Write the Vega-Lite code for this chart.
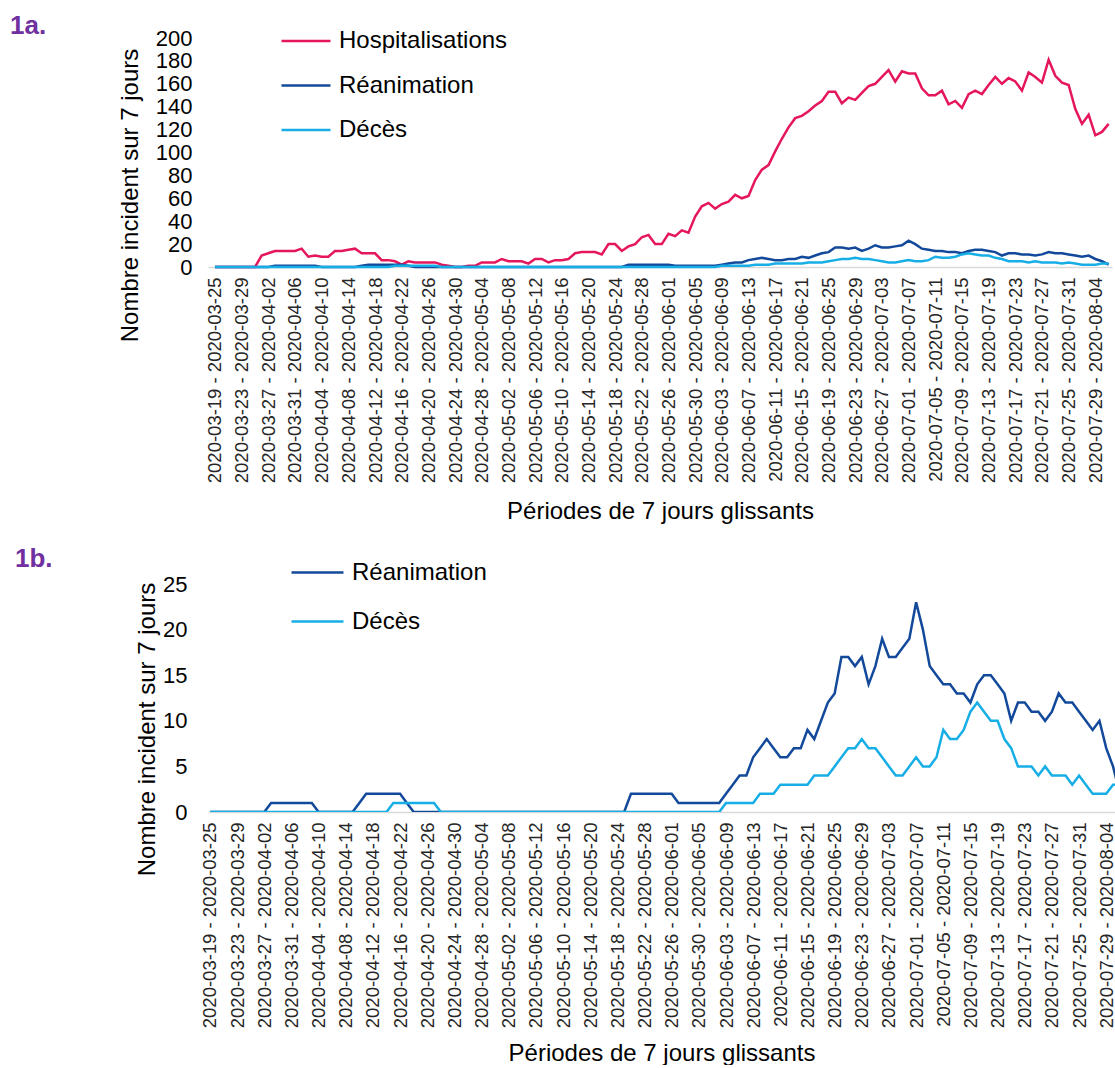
{
  "$schema": "https://vega.github.io/schema/vega-lite/v6.json",
  "background": "white",
  "padding": {"left": 10, "top": 13, "right": 0, "bottom": 0},
  "datasets": {
    "cas": [
      {"date": "2020-03-19", "Hospitalisations": 0, "Réanimation": 0, "Décès": 0},
      {"date": "2020-03-20", "Hospitalisations": 0, "Réanimation": 0, "Décès": 0},
      {"date": "2020-03-21", "Hospitalisations": 0, "Réanimation": 0, "Décès": 0},
      {"date": "2020-03-22", "Hospitalisations": 0, "Réanimation": 0, "Décès": 0},
      {"date": "2020-03-23", "Hospitalisations": 0, "Réanimation": 0, "Décès": 0},
      {"date": "2020-03-24", "Hospitalisations": 0, "Réanimation": 0, "Décès": 0},
      {"date": "2020-03-25", "Hospitalisations": 0, "Réanimation": 0, "Décès": 0},
      {"date": "2020-03-26", "Hospitalisations": 10, "Réanimation": 0, "Décès": 0},
      {"date": "2020-03-27", "Hospitalisations": 12, "Réanimation": 0, "Décès": 0},
      {"date": "2020-03-28", "Hospitalisations": 14, "Réanimation": 1, "Décès": 0},
      {"date": "2020-03-29", "Hospitalisations": 14, "Réanimation": 1, "Décès": 0},
      {"date": "2020-03-30", "Hospitalisations": 14, "Réanimation": 1, "Décès": 0},
      {"date": "2020-03-31", "Hospitalisations": 14, "Réanimation": 1, "Décès": 0},
      {"date": "2020-04-01", "Hospitalisations": 16, "Réanimation": 1, "Décès": 0},
      {"date": "2020-04-02", "Hospitalisations": 9, "Réanimation": 1, "Décès": 0},
      {"date": "2020-04-03", "Hospitalisations": 10, "Réanimation": 1, "Décès": 0},
      {"date": "2020-04-04", "Hospitalisations": 9, "Réanimation": 0, "Décès": 0},
      {"date": "2020-04-05", "Hospitalisations": 9, "Réanimation": 0, "Décès": 0},
      {"date": "2020-04-06", "Hospitalisations": 14, "Réanimation": 0, "Décès": 0},
      {"date": "2020-04-07", "Hospitalisations": 14, "Réanimation": 0, "Décès": 0},
      {"date": "2020-04-08", "Hospitalisations": 15, "Réanimation": 0, "Décès": 0},
      {"date": "2020-04-09", "Hospitalisations": 16, "Réanimation": 0, "Décès": 0},
      {"date": "2020-04-10", "Hospitalisations": 12, "Réanimation": 1, "Décès": 0},
      {"date": "2020-04-11", "Hospitalisations": 12, "Réanimation": 2, "Décès": 0},
      {"date": "2020-04-12", "Hospitalisations": 12, "Réanimation": 2, "Décès": 0},
      {"date": "2020-04-13", "Hospitalisations": 6, "Réanimation": 2, "Décès": 0},
      {"date": "2020-04-14", "Hospitalisations": 6, "Réanimation": 2, "Décès": 0},
      {"date": "2020-04-15", "Hospitalisations": 5, "Réanimation": 2, "Décès": 1},
      {"date": "2020-04-16", "Hospitalisations": 2, "Réanimation": 2, "Décès": 1},
      {"date": "2020-04-17", "Hospitalisations": 5, "Réanimation": 1, "Décès": 1},
      {"date": "2020-04-18", "Hospitalisations": 4, "Réanimation": 0, "Décès": 1},
      {"date": "2020-04-19", "Hospitalisations": 4, "Réanimation": 0, "Décès": 1},
      {"date": "2020-04-20", "Hospitalisations": 4, "Réanimation": 0, "Décès": 1},
      {"date": "2020-04-21", "Hospitalisations": 4, "Réanimation": 0, "Décès": 1},
      {"date": "2020-04-22", "Hospitalisations": 2, "Réanimation": 0, "Décès": 0},
      {"date": "2020-04-23", "Hospitalisations": 1, "Réanimation": 0, "Décès": 0},
      {"date": "2020-04-24", "Hospitalisations": 0, "Réanimation": 0, "Décès": 0},
      {"date": "2020-04-25", "Hospitalisations": 0, "Réanimation": 0, "Décès": 0},
      {"date": "2020-04-26", "Hospitalisations": 1, "Réanimation": 0, "Décès": 0},
      {"date": "2020-04-27", "Hospitalisations": 1, "Réanimation": 0, "Décès": 0},
      {"date": "2020-04-28", "Hospitalisations": 4, "Réanimation": 0, "Décès": 0},
      {"date": "2020-04-29", "Hospitalisations": 4, "Réanimation": 0, "Décès": 0},
      {"date": "2020-04-30", "Hospitalisations": 4, "Réanimation": 0, "Décès": 0},
      {"date": "2020-05-01", "Hospitalisations": 7, "Réanimation": 0, "Décès": 0},
      {"date": "2020-05-02", "Hospitalisations": 5, "Réanimation": 0, "Décès": 0},
      {"date": "2020-05-03", "Hospitalisations": 5, "Réanimation": 0, "Décès": 0},
      {"date": "2020-05-04", "Hospitalisations": 5, "Réanimation": 0, "Décès": 0},
      {"date": "2020-05-05", "Hospitalisations": 3, "Réanimation": 0, "Décès": 0},
      {"date": "2020-05-06", "Hospitalisations": 7, "Réanimation": 0, "Décès": 0},
      {"date": "2020-05-07", "Hospitalisations": 7, "Réanimation": 0, "Décès": 0},
      {"date": "2020-05-08", "Hospitalisations": 4, "Réanimation": 0, "Décès": 0},
      {"date": "2020-05-09", "Hospitalisations": 6, "Réanimation": 0, "Décès": 0},
      {"date": "2020-05-10", "Hospitalisations": 6, "Réanimation": 0, "Décès": 0},
      {"date": "2020-05-11", "Hospitalisations": 7, "Réanimation": 0, "Décès": 0},
      {"date": "2020-05-12", "Hospitalisations": 12, "Réanimation": 0, "Décès": 0},
      {"date": "2020-05-13", "Hospitalisations": 13, "Réanimation": 0, "Décès": 0},
      {"date": "2020-05-14", "Hospitalisations": 13, "Réanimation": 0, "Décès": 0},
      {"date": "2020-05-15", "Hospitalisations": 13, "Réanimation": 0, "Décès": 0},
      {"date": "2020-05-16", "Hospitalisations": 11, "Réanimation": 0, "Décès": 0},
      {"date": "2020-05-17", "Hospitalisations": 20, "Réanimation": 0, "Décès": 0},
      {"date": "2020-05-18", "Hospitalisations": 20, "Réanimation": 0, "Décès": 0},
      {"date": "2020-05-19", "Hospitalisations": 14, "Réanimation": 0, "Décès": 0},
      {"date": "2020-05-20", "Hospitalisations": 18, "Réanimation": 2, "Décès": 0},
      {"date": "2020-05-21", "Hospitalisations": 20, "Réanimation": 2, "Décès": 0},
      {"date": "2020-05-22", "Hospitalisations": 26, "Réanimation": 2, "Décès": 0},
      {"date": "2020-05-23", "Hospitalisations": 28, "Réanimation": 2, "Décès": 0},
      {"date": "2020-05-24", "Hospitalisations": 20, "Réanimation": 2, "Décès": 0},
      {"date": "2020-05-25", "Hospitalisations": 20, "Réanimation": 2, "Décès": 0},
      {"date": "2020-05-26", "Hospitalisations": 29, "Réanimation": 2, "Décès": 0},
      {"date": "2020-05-27", "Hospitalisations": 27, "Réanimation": 1, "Décès": 0},
      {"date": "2020-05-28", "Hospitalisations": 32, "Réanimation": 1, "Décès": 0},
      {"date": "2020-05-29", "Hospitalisations": 30, "Réanimation": 1, "Décès": 0},
      {"date": "2020-05-30", "Hospitalisations": 44, "Réanimation": 1, "Décès": 0},
      {"date": "2020-05-31", "Hospitalisations": 53, "Réanimation": 1, "Décès": 0},
      {"date": "2020-06-01", "Hospitalisations": 56, "Réanimation": 1, "Décès": 0},
      {"date": "2020-06-02", "Hospitalisations": 51, "Réanimation": 1, "Décès": 0},
      {"date": "2020-06-03", "Hospitalisations": 55, "Réanimation": 2, "Décès": 1},
      {"date": "2020-06-04", "Hospitalisations": 57, "Réanimation": 3, "Décès": 1},
      {"date": "2020-06-05", "Hospitalisations": 63, "Réanimation": 4, "Décès": 1},
      {"date": "2020-06-06", "Hospitalisations": 60, "Réanimation": 4, "Décès": 1},
      {"date": "2020-06-07", "Hospitalisations": 62, "Réanimation": 6, "Décès": 1},
      {"date": "2020-06-08", "Hospitalisations": 76, "Réanimation": 7, "Décès": 2},
      {"date": "2020-06-09", "Hospitalisations": 85, "Réanimation": 8, "Décès": 2},
      {"date": "2020-06-10", "Hospitalisations": 89, "Réanimation": 7, "Décès": 2},
      {"date": "2020-06-11", "Hospitalisations": 101, "Réanimation": 6, "Décès": 3},
      {"date": "2020-06-12", "Hospitalisations": 112, "Réanimation": 6, "Décès": 3},
      {"date": "2020-06-13", "Hospitalisations": 122, "Réanimation": 7, "Décès": 3},
      {"date": "2020-06-14", "Hospitalisations": 130, "Réanimation": 7, "Décès": 3},
      {"date": "2020-06-15", "Hospitalisations": 132, "Réanimation": 9, "Décès": 3},
      {"date": "2020-06-16", "Hospitalisations": 136, "Réanimation": 8, "Décès": 4},
      {"date": "2020-06-17", "Hospitalisations": 141, "Réanimation": 10, "Décès": 4},
      {"date": "2020-06-18", "Hospitalisations": 145, "Réanimation": 12, "Décès": 4},
      {"date": "2020-06-19", "Hospitalisations": 153, "Réanimation": 13, "Décès": 5},
      {"date": "2020-06-20", "Hospitalisations": 153, "Réanimation": 17, "Décès": 6},
      {"date": "2020-06-21", "Hospitalisations": 143, "Réanimation": 17, "Décès": 7},
      {"date": "2020-06-22", "Hospitalisations": 148, "Réanimation": 16, "Décès": 7},
      {"date": "2020-06-23", "Hospitalisations": 146, "Réanimation": 17, "Décès": 8},
      {"date": "2020-06-24", "Hospitalisations": 152, "Réanimation": 14, "Décès": 7},
      {"date": "2020-06-25", "Hospitalisations": 158, "Réanimation": 16, "Décès": 7},
      {"date": "2020-06-26", "Hospitalisations": 160, "Réanimation": 19, "Décès": 6},
      {"date": "2020-06-27", "Hospitalisations": 166, "Réanimation": 17, "Décès": 5},
      {"date": "2020-06-28", "Hospitalisations": 172, "Réanimation": 17, "Décès": 4},
      {"date": "2020-06-29", "Hospitalisations": 162, "Réanimation": 18, "Décès": 4},
      {"date": "2020-06-30", "Hospitalisations": 171, "Réanimation": 19, "Décès": 5},
      {"date": "2020-07-01", "Hospitalisations": 169, "Réanimation": 23, "Décès": 6},
      {"date": "2020-07-02", "Hospitalisations": 169, "Réanimation": 20, "Décès": 5},
      {"date": "2020-07-03", "Hospitalisations": 156, "Réanimation": 16, "Décès": 5},
      {"date": "2020-07-04", "Hospitalisations": 150, "Réanimation": 15, "Décès": 6},
      {"date": "2020-07-05", "Hospitalisations": 150, "Réanimation": 14, "Décès": 9},
      {"date": "2020-07-06", "Hospitalisations": 154, "Réanimation": 14, "Décès": 8},
      {"date": "2020-07-07", "Hospitalisations": 142, "Réanimation": 13, "Décès": 8},
      {"date": "2020-07-08", "Hospitalisations": 145, "Réanimation": 13, "Décès": 9},
      {"date": "2020-07-09", "Hospitalisations": 139, "Réanimation": 12, "Décès": 11},
      {"date": "2020-07-10", "Hospitalisations": 151, "Réanimation": 14, "Décès": 12},
      {"date": "2020-07-11", "Hospitalisations": 154, "Réanimation": 15, "Décès": 11},
      {"date": "2020-07-12", "Hospitalisations": 151, "Réanimation": 15, "Décès": 10},
      {"date": "2020-07-13", "Hospitalisations": 159, "Réanimation": 14, "Décès": 10},
      {"date": "2020-07-14", "Hospitalisations": 166, "Réanimation": 13, "Décès": 8},
      {"date": "2020-07-15", "Hospitalisations": 160, "Réanimation": 10, "Décès": 7},
      {"date": "2020-07-16", "Hospitalisations": 165, "Réanimation": 12, "Décès": 5},
      {"date": "2020-07-17", "Hospitalisations": 162, "Réanimation": 12, "Décès": 5},
      {"date": "2020-07-18", "Hospitalisations": 154, "Réanimation": 11, "Décès": 5},
      {"date": "2020-07-19", "Hospitalisations": 170, "Réanimation": 11, "Décès": 4},
      {"date": "2020-07-20", "Hospitalisations": 166, "Réanimation": 10, "Décès": 5},
      {"date": "2020-07-21", "Hospitalisations": 161, "Réanimation": 11, "Décès": 4},
      {"date": "2020-07-22", "Hospitalisations": 181, "Réanimation": 13, "Décès": 4},
      {"date": "2020-07-23", "Hospitalisations": 167, "Réanimation": 12, "Décès": 4},
      {"date": "2020-07-24", "Hospitalisations": 161, "Réanimation": 12, "Décès": 3},
      {"date": "2020-07-25", "Hospitalisations": 159, "Réanimation": 11, "Décès": 4},
      {"date": "2020-07-26", "Hospitalisations": 138, "Réanimation": 10, "Décès": 3},
      {"date": "2020-07-27", "Hospitalisations": 125, "Réanimation": 9, "Décès": 2},
      {"date": "2020-07-28", "Hospitalisations": 133, "Réanimation": 10, "Décès": 2},
      {"date": "2020-07-29", "Hospitalisations": 115, "Réanimation": 7, "Décès": 2},
      {"date": "2020-07-30", "Hospitalisations": 118, "Réanimation": 5, "Décès": 3},
      {"date": "2020-07-31", "Hospitalisations": 125, "Réanimation": 2, "Décès": 3}
    ]
  },
  "vconcat": [
    {
      "title": {"text": "1a.", "anchor": "start", "frame": "group", "dx": -198, "offset": -24, "fontSize": 26, "fontWeight": "bold", "color": "#7030A0"},
      "width": 904,
      "height": 229,
      "data": {"name": "cas"},
      "transform": [{"fold": ["Hospitalisations", "Réanimation", "Décès"], "as": ["serie", "valeur"]}],
      "mark": {"type": "line", "strokeWidth": 2.5},
      "encoding": {
        "x": {
          "field": "date",
          "type": "temporal",
          "title": "Périodes de 7 jours glissants",
          "scale": {
            "type": "utc",
            "domain": [
              {"year": 2020, "month": 3, "date": 17, "hours": 23, "utc": true},
              {"year": 2020, "month": 7, "date": 31, "hours": 12, "utc": true}
            ]
          },
          "axis": {
            "values": [
              {"year": 2020, "month": 3, "date": 19, "utc": true},
              {"year": 2020, "month": 3, "date": 23, "utc": true},
              {"year": 2020, "month": 3, "date": 27, "utc": true},
              {"year": 2020, "month": 3, "date": 31, "utc": true},
              {"year": 2020, "month": 4, "date": 4, "utc": true},
              {"year": 2020, "month": 4, "date": 8, "utc": true},
              {"year": 2020, "month": 4, "date": 12, "utc": true},
              {"year": 2020, "month": 4, "date": 16, "utc": true},
              {"year": 2020, "month": 4, "date": 20, "utc": true},
              {"year": 2020, "month": 4, "date": 24, "utc": true},
              {"year": 2020, "month": 4, "date": 28, "utc": true},
              {"year": 2020, "month": 5, "date": 2, "utc": true},
              {"year": 2020, "month": 5, "date": 6, "utc": true},
              {"year": 2020, "month": 5, "date": 10, "utc": true},
              {"year": 2020, "month": 5, "date": 14, "utc": true},
              {"year": 2020, "month": 5, "date": 18, "utc": true},
              {"year": 2020, "month": 5, "date": 22, "utc": true},
              {"year": 2020, "month": 5, "date": 26, "utc": true},
              {"year": 2020, "month": 5, "date": 30, "utc": true},
              {"year": 2020, "month": 6, "date": 3, "utc": true},
              {"year": 2020, "month": 6, "date": 7, "utc": true},
              {"year": 2020, "month": 6, "date": 11, "utc": true},
              {"year": 2020, "month": 6, "date": 15, "utc": true},
              {"year": 2020, "month": 6, "date": 19, "utc": true},
              {"year": 2020, "month": 6, "date": 23, "utc": true},
              {"year": 2020, "month": 6, "date": 27, "utc": true},
              {"year": 2020, "month": 7, "date": 1, "utc": true},
              {"year": 2020, "month": 7, "date": 5, "utc": true},
              {"year": 2020, "month": 7, "date": 9, "utc": true},
              {"year": 2020, "month": 7, "date": 13, "utc": true},
              {"year": 2020, "month": 7, "date": 17, "utc": true},
              {"year": 2020, "month": 7, "date": 21, "utc": true},
              {"year": 2020, "month": 7, "date": 25, "utc": true},
              {"year": 2020, "month": 7, "date": 29, "utc": true}
            ],
            "labelExpr": "utcFormat(datum.value, '%Y-%m-%d') + ' - ' + utcFormat(datum.value + 6 * 86400000, '%Y-%m-%d')",
            "labelAngle": -90,
            "labelFontSize": 18.5,
            "labelColor": "#262626",
            "labelPadding": 10,
            "labelLimit": 400,
            "labelOverlap": false,
            "labelBound": false,
            "ticks": false,
            "tickSize": 0,
            "grid": false,
            "domainColor": "#d9d9d9",
            "domainWidth": 1.5,
            "titleFontSize": 24,
            "titleFontWeight": "normal",
            "titleColor": "#000",
            "titlePadding": 32
          }
        },
        "y": {
          "field": "valeur",
          "type": "quantitative",
          "title": "Nombre incident sur 7 jours",
          "scale": {"domain": [0, 200]},
          "axis": {
            "values": [0, 20, 40, 60, 80, 100, 120, 140, 160, 180, 200],
            "labelFontSize": 22,
            "labelColor": "#000",
            "labelPadding": 16,
            "labelOverlap": false,
            "ticks": false,
            "tickSize": 0,
            "domain": false,
            "grid": false,
            "titleFontSize": 24,
            "titleFontWeight": "normal",
            "titleColor": "#000",
            "titleAngle": -90,
            "titleAlign": "center",
            "titleBaseline": "middle",
            "titleX": -78,
            "titleY": 157
          }
        },
        "color": {
          "field": "serie",
          "type": "nominal",
          "scale": {
            "domain": ["Hospitalisations", "Réanimation", "Décès"],
            "range": ["#E5175A", "#12499A", "#17AEE6"]
          },
          "legend": {
            "orient": "none",
            "legendX": 72,
            "legendY": -23,
            "title": null,
            "direction": "vertical",
            "symbolType": "stroke",
            "symbolSize": 2400,
            "symbolStrokeWidth": 2.5,
            "labelFontSize": 24,
            "labelColor": "#000",
            "labelOffset": 7,
            "labelLimit": 400,
            "rowPadding": 6.5,
            "padding": 0
          }
        }
      }
    },
    {
      "title": {"text": "1b.", "anchor": "start", "frame": "group", "dx": -193, "offset": -27, "fontSize": 26, "fontWeight": "bold", "color": "#7030A0"},
      "width": 907,
      "height": 228,
      "data": {"name": "cas"},
      "transform": [{"fold": ["Réanimation", "Décès"], "as": ["serie", "valeur"]}],
      "mark": {"type": "line", "strokeWidth": 2.5, "clip": true},
      "encoding": {
        "x": {
          "field": "date",
          "type": "temporal",
          "title": "Périodes de 7 jours glissants",
          "scale": {
            "type": "utc",
            "domain": [
              {"year": 2020, "month": 3, "date": 18, "hours": 17, "utc": true},
              {"year": 2020, "month": 7, "date": 30, "hours": 7, "utc": true}
            ]
          },
          "axis": {
            "values": [
              {"year": 2020, "month": 3, "date": 19, "utc": true},
              {"year": 2020, "month": 3, "date": 23, "utc": true},
              {"year": 2020, "month": 3, "date": 27, "utc": true},
              {"year": 2020, "month": 3, "date": 31, "utc": true},
              {"year": 2020, "month": 4, "date": 4, "utc": true},
              {"year": 2020, "month": 4, "date": 8, "utc": true},
              {"year": 2020, "month": 4, "date": 12, "utc": true},
              {"year": 2020, "month": 4, "date": 16, "utc": true},
              {"year": 2020, "month": 4, "date": 20, "utc": true},
              {"year": 2020, "month": 4, "date": 24, "utc": true},
              {"year": 2020, "month": 4, "date": 28, "utc": true},
              {"year": 2020, "month": 5, "date": 2, "utc": true},
              {"year": 2020, "month": 5, "date": 6, "utc": true},
              {"year": 2020, "month": 5, "date": 10, "utc": true},
              {"year": 2020, "month": 5, "date": 14, "utc": true},
              {"year": 2020, "month": 5, "date": 18, "utc": true},
              {"year": 2020, "month": 5, "date": 22, "utc": true},
              {"year": 2020, "month": 5, "date": 26, "utc": true},
              {"year": 2020, "month": 5, "date": 30, "utc": true},
              {"year": 2020, "month": 6, "date": 3, "utc": true},
              {"year": 2020, "month": 6, "date": 7, "utc": true},
              {"year": 2020, "month": 6, "date": 11, "utc": true},
              {"year": 2020, "month": 6, "date": 15, "utc": true},
              {"year": 2020, "month": 6, "date": 19, "utc": true},
              {"year": 2020, "month": 6, "date": 23, "utc": true},
              {"year": 2020, "month": 6, "date": 27, "utc": true},
              {"year": 2020, "month": 7, "date": 1, "utc": true},
              {"year": 2020, "month": 7, "date": 5, "utc": true},
              {"year": 2020, "month": 7, "date": 9, "utc": true},
              {"year": 2020, "month": 7, "date": 13, "utc": true},
              {"year": 2020, "month": 7, "date": 17, "utc": true},
              {"year": 2020, "month": 7, "date": 21, "utc": true},
              {"year": 2020, "month": 7, "date": 25, "utc": true},
              {"year": 2020, "month": 7, "date": 29, "utc": true}
            ],
            "labelExpr": "utcFormat(datum.value, '%Y-%m-%d') + ' - ' + utcFormat(datum.value + 6 * 86400000, '%Y-%m-%d')",
            "labelAngle": -90,
            "labelFontSize": 18.5,
            "labelColor": "#262626",
            "labelPadding": 10,
            "labelLimit": 400,
            "labelOverlap": false,
            "labelBound": false,
            "ticks": false,
            "tickSize": 0,
            "grid": false,
            "domainColor": "#d9d9d9",
            "domainWidth": 1.5,
            "titleFontSize": 24,
            "titleFontWeight": "normal",
            "titleColor": "#000",
            "titlePadding": 29
          }
        },
        "y": {
          "field": "valeur",
          "type": "quantitative",
          "title": "Nombre incident sur 7 jours",
          "scale": {"domain": [0, 25]},
          "axis": {
            "values": [0, 5, 10, 15, 20, 25],
            "labelFontSize": 22,
            "labelColor": "#000",
            "labelPadding": 21,
            "labelOverlap": false,
            "ticks": false,
            "tickSize": 0,
            "domain": false,
            "grid": false,
            "titleFontSize": 24,
            "titleFontWeight": "normal",
            "titleColor": "#000",
            "titleAngle": -90,
            "titleAlign": "center",
            "titleBaseline": "middle",
            "titleX": -61,
            "titleY": 145
          }
        },
        "color": {
          "field": "serie",
          "type": "nominal",
          "scale": {
            "domain": ["Réanimation", "Décès"],
            "range": ["#12499A", "#17AEE6"]
          },
          "legend": {
            "orient": "none",
            "legendX": 82,
            "legendY": -39,
            "title": null,
            "direction": "vertical",
            "symbolType": "stroke",
            "symbolSize": 2700,
            "symbolStrokeWidth": 2.5,
            "labelFontSize": 24,
            "labelColor": "#000",
            "labelOffset": 7,
            "labelLimit": 400,
            "rowPadding": 9,
            "padding": 0
          }
        }
      }
    }
  ],
  "spacing": 22,
  "resolve": {"scale": {"color": "independent"}, "legend": {"color": "independent"}},
  "config": {
    "font": "Liberation Sans",
    "view": {"stroke": null}
  }
}
